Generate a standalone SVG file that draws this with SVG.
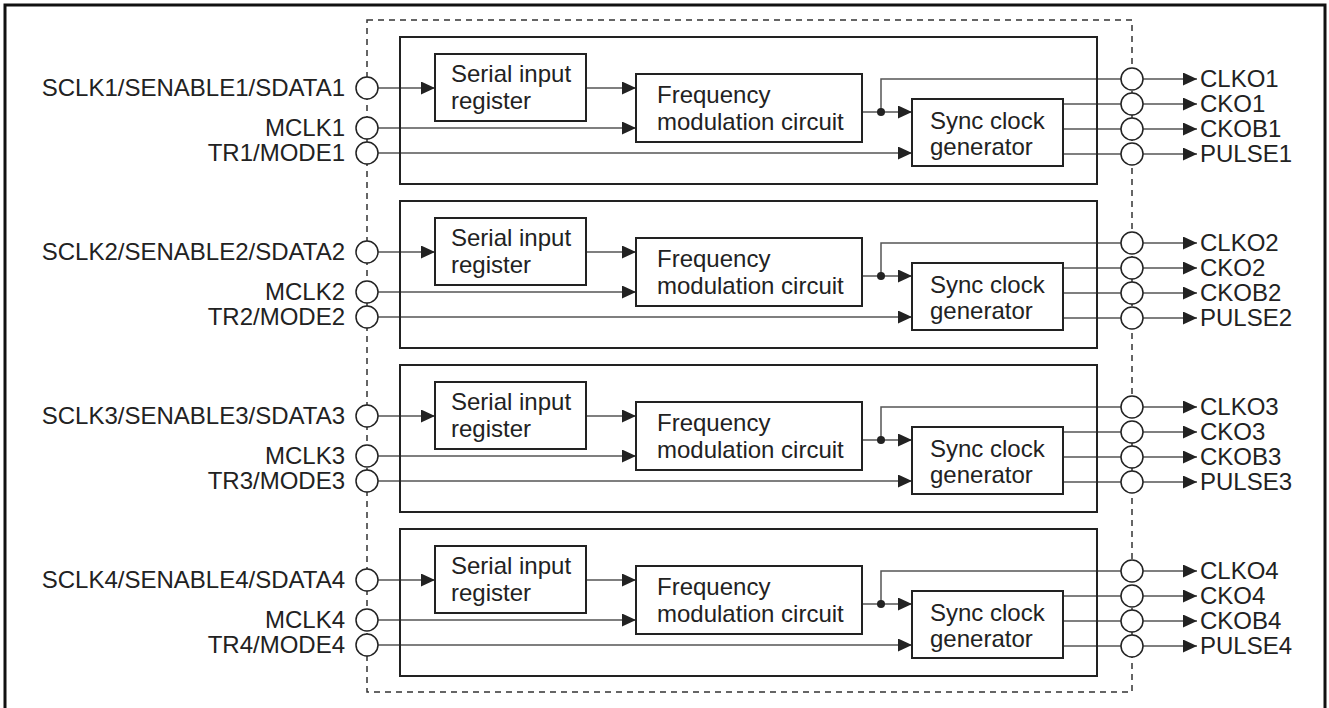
<svg xmlns="http://www.w3.org/2000/svg" xmlns:xlink="http://www.w3.org/1999/xlink" width="1329" height="708" viewBox="0 0 1329 708">
<style>
.box{fill:#fff;stroke:#222;stroke-width:2}
.blk{fill:none;stroke:#222;stroke-width:2}
.pin{fill:#fff;stroke:#222;stroke-width:1.5}
.ln{fill:none;stroke:#555;stroke-width:1.5}
.t{font-family:"Liberation Sans",Arial,sans-serif;font-size:24px;fill:#222}
.r{text-anchor:end}
</style>
<defs>
<marker id="ah" markerUnits="userSpaceOnUse" markerWidth="14" markerHeight="13" refX="14" refY="6.5" orient="auto">
<path d="M0,0 L14,6.5 L0,13 Z" fill="#222"/>
</marker>
</defs>
<rect x="5" y="5" width="1320" height="720" fill="#fff" stroke="#111" stroke-width="3"/>
<rect id="chip" x="367" y="20" width="765" height="672" fill="none" stroke="#333" stroke-width="1.5" stroke-dasharray="6,5"/>

<g id="connectors">
<g id="conn1">
<line class="ln" x1="378" y1="88" x2="435" y2="88" marker-end="url(#ah)"/>
<line class="ln" x1="586" y1="88" x2="636" y2="88" marker-end="url(#ah)"/>
<line class="ln" x1="378" y1="128" x2="636" y2="128" marker-end="url(#ah)"/>
<line class="ln" x1="378" y1="153" x2="912" y2="153" marker-end="url(#ah)"/>
<line class="ln" x1="862" y1="112" x2="912" y2="112" marker-end="url(#ah)"/>
<path class="ln" d="M881,112 V79 H1197" marker-end="url(#ah)"/>
<line class="ln" x1="1063" y1="104" x2="1197" y2="104" marker-end="url(#ah)"/>
<line class="ln" x1="1063" y1="129" x2="1197" y2="129" marker-end="url(#ah)"/>
<line class="ln" x1="1063" y1="154" x2="1197" y2="154" marker-end="url(#ah)"/>
<circle cx="881" cy="112" r="4" fill="#222"/>
</g>
<g id="conn2" transform="translate(0,164)">
<line class="ln" x1="378" y1="88" x2="435" y2="88" marker-end="url(#ah)"/>
<line class="ln" x1="586" y1="88" x2="636" y2="88" marker-end="url(#ah)"/>
<line class="ln" x1="378" y1="128" x2="636" y2="128" marker-end="url(#ah)"/>
<line class="ln" x1="378" y1="153" x2="912" y2="153" marker-end="url(#ah)"/>
<line class="ln" x1="862" y1="112" x2="912" y2="112" marker-end="url(#ah)"/>
<path class="ln" d="M881,112 V79 H1197" marker-end="url(#ah)"/>
<line class="ln" x1="1063" y1="104" x2="1197" y2="104" marker-end="url(#ah)"/>
<line class="ln" x1="1063" y1="129" x2="1197" y2="129" marker-end="url(#ah)"/>
<line class="ln" x1="1063" y1="154" x2="1197" y2="154" marker-end="url(#ah)"/>
<circle cx="881" cy="112" r="4" fill="#222"/>
</g>
<g id="conn3" transform="translate(0,328)">
<line class="ln" x1="378" y1="88" x2="435" y2="88" marker-end="url(#ah)"/>
<line class="ln" x1="586" y1="88" x2="636" y2="88" marker-end="url(#ah)"/>
<line class="ln" x1="378" y1="128" x2="636" y2="128" marker-end="url(#ah)"/>
<line class="ln" x1="378" y1="153" x2="912" y2="153" marker-end="url(#ah)"/>
<line class="ln" x1="862" y1="112" x2="912" y2="112" marker-end="url(#ah)"/>
<path class="ln" d="M881,112 V79 H1197" marker-end="url(#ah)"/>
<line class="ln" x1="1063" y1="104" x2="1197" y2="104" marker-end="url(#ah)"/>
<line class="ln" x1="1063" y1="129" x2="1197" y2="129" marker-end="url(#ah)"/>
<line class="ln" x1="1063" y1="154" x2="1197" y2="154" marker-end="url(#ah)"/>
<circle cx="881" cy="112" r="4" fill="#222"/>
</g>
<g id="conn4" transform="translate(0,492)">
<line class="ln" x1="378" y1="88" x2="435" y2="88" marker-end="url(#ah)"/>
<line class="ln" x1="586" y1="88" x2="636" y2="88" marker-end="url(#ah)"/>
<line class="ln" x1="378" y1="128" x2="636" y2="128" marker-end="url(#ah)"/>
<line class="ln" x1="378" y1="153" x2="912" y2="153" marker-end="url(#ah)"/>
<line class="ln" x1="862" y1="112" x2="912" y2="112" marker-end="url(#ah)"/>
<path class="ln" d="M881,112 V79 H1197" marker-end="url(#ah)"/>
<line class="ln" x1="1063" y1="104" x2="1197" y2="104" marker-end="url(#ah)"/>
<line class="ln" x1="1063" y1="129" x2="1197" y2="129" marker-end="url(#ah)"/>
<line class="ln" x1="1063" y1="154" x2="1197" y2="154" marker-end="url(#ah)"/>
<circle cx="881" cy="112" r="4" fill="#222"/>
</g>
</g>

<g id="channel1">
<rect id="block1" class="blk" x="400" y="37" width="697" height="147"/>
<g id="serial1"><rect class="box" x="435" y="54" width="151" height="67"/><text class="t" x="451" y="82">Serial input</text><text class="t" x="451" y="109">register</text></g>
<g id="freq1"><rect class="box" x="636" y="74" width="226" height="68"/><text class="t" x="657" y="103">Frequency</text><text class="t" x="657" y="130">modulation circuit</text></g>
<g id="sync1"><rect class="box" x="912" y="99" width="151" height="67"/><text class="t" x="930" y="129">Sync clock</text><text class="t" x="930" y="155">generator</text></g>
<g id="pin-sclk1"><circle class="pin" cx="367" cy="88" r="11"/><text class="t r" x="345" y="96">SCLK1/SENABLE1/SDATA1</text></g>
<g id="pin-mclk1"><circle class="pin" cx="367" cy="128" r="11"/><text class="t r" x="345" y="136">MCLK1</text></g>
<g id="pin-tr1"><circle class="pin" cx="367" cy="153" r="11"/><text class="t r" x="345" y="161">TR1/MODE1</text></g>
<g id="pin-clko1"><circle class="pin" cx="1132" cy="79" r="11"/><text class="t" x="1200" y="87">CLKO1</text></g>
<g id="pin-cko1"><circle class="pin" cx="1132" cy="104" r="11"/><text class="t" x="1200" y="112">CKO1</text></g>
<g id="pin-ckob1"><circle class="pin" cx="1132" cy="129" r="11"/><text class="t" x="1200" y="137">CKOB1</text></g>
<g id="pin-pulse1"><circle class="pin" cx="1132" cy="154" r="11"/><text class="t" x="1200" y="162">PULSE1</text></g>
</g>

<g id="channel2" transform="translate(0,164)">
<rect id="block2" class="blk" x="400" y="37" width="697" height="147"/>
<g id="serial2"><rect class="box" x="435" y="54" width="151" height="67"/><text class="t" x="451" y="82">Serial input</text><text class="t" x="451" y="109">register</text></g>
<g id="freq2"><rect class="box" x="636" y="74" width="226" height="68"/><text class="t" x="657" y="103">Frequency</text><text class="t" x="657" y="130">modulation circuit</text></g>
<g id="sync2"><rect class="box" x="912" y="99" width="151" height="67"/><text class="t" x="930" y="129">Sync clock</text><text class="t" x="930" y="155">generator</text></g>
<g id="pin-sclk2"><circle class="pin" cx="367" cy="88" r="11"/><text class="t r" x="345" y="96">SCLK2/SENABLE2/SDATA2</text></g>
<g id="pin-mclk2"><circle class="pin" cx="367" cy="128" r="11"/><text class="t r" x="345" y="136">MCLK2</text></g>
<g id="pin-tr2"><circle class="pin" cx="367" cy="153" r="11"/><text class="t r" x="345" y="161">TR2/MODE2</text></g>
<g id="pin-clko2"><circle class="pin" cx="1132" cy="79" r="11"/><text class="t" x="1200" y="87">CLKO2</text></g>
<g id="pin-cko2"><circle class="pin" cx="1132" cy="104" r="11"/><text class="t" x="1200" y="112">CKO2</text></g>
<g id="pin-ckob2"><circle class="pin" cx="1132" cy="129" r="11"/><text class="t" x="1200" y="137">CKOB2</text></g>
<g id="pin-pulse2"><circle class="pin" cx="1132" cy="154" r="11"/><text class="t" x="1200" y="162">PULSE2</text></g>
</g>

<g id="channel3" transform="translate(0,328)">
<rect id="block3" class="blk" x="400" y="37" width="697" height="147"/>
<g id="serial3"><rect class="box" x="435" y="54" width="151" height="67"/><text class="t" x="451" y="82">Serial input</text><text class="t" x="451" y="109">register</text></g>
<g id="freq3"><rect class="box" x="636" y="74" width="226" height="68"/><text class="t" x="657" y="103">Frequency</text><text class="t" x="657" y="130">modulation circuit</text></g>
<g id="sync3"><rect class="box" x="912" y="99" width="151" height="67"/><text class="t" x="930" y="129">Sync clock</text><text class="t" x="930" y="155">generator</text></g>
<g id="pin-sclk3"><circle class="pin" cx="367" cy="88" r="11"/><text class="t r" x="345" y="96">SCLK3/SENABLE3/SDATA3</text></g>
<g id="pin-mclk3"><circle class="pin" cx="367" cy="128" r="11"/><text class="t r" x="345" y="136">MCLK3</text></g>
<g id="pin-tr3"><circle class="pin" cx="367" cy="153" r="11"/><text class="t r" x="345" y="161">TR3/MODE3</text></g>
<g id="pin-clko3"><circle class="pin" cx="1132" cy="79" r="11"/><text class="t" x="1200" y="87">CLKO3</text></g>
<g id="pin-cko3"><circle class="pin" cx="1132" cy="104" r="11"/><text class="t" x="1200" y="112">CKO3</text></g>
<g id="pin-ckob3"><circle class="pin" cx="1132" cy="129" r="11"/><text class="t" x="1200" y="137">CKOB3</text></g>
<g id="pin-pulse3"><circle class="pin" cx="1132" cy="154" r="11"/><text class="t" x="1200" y="162">PULSE3</text></g>
</g>

<g id="channel4" transform="translate(0,492)">
<rect id="block4" class="blk" x="400" y="37" width="697" height="147"/>
<g id="serial4"><rect class="box" x="435" y="54" width="151" height="67"/><text class="t" x="451" y="82">Serial input</text><text class="t" x="451" y="109">register</text></g>
<g id="freq4"><rect class="box" x="636" y="74" width="226" height="68"/><text class="t" x="657" y="103">Frequency</text><text class="t" x="657" y="130">modulation circuit</text></g>
<g id="sync4"><rect class="box" x="912" y="99" width="151" height="67"/><text class="t" x="930" y="129">Sync clock</text><text class="t" x="930" y="155">generator</text></g>
<g id="pin-sclk4"><circle class="pin" cx="367" cy="88" r="11"/><text class="t r" x="345" y="96">SCLK4/SENABLE4/SDATA4</text></g>
<g id="pin-mclk4"><circle class="pin" cx="367" cy="128" r="11"/><text class="t r" x="345" y="136">MCLK4</text></g>
<g id="pin-tr4"><circle class="pin" cx="367" cy="153" r="11"/><text class="t r" x="345" y="161">TR4/MODE4</text></g>
<g id="pin-clko4"><circle class="pin" cx="1132" cy="79" r="11"/><text class="t" x="1200" y="87">CLKO4</text></g>
<g id="pin-cko4"><circle class="pin" cx="1132" cy="104" r="11"/><text class="t" x="1200" y="112">CKO4</text></g>
<g id="pin-ckob4"><circle class="pin" cx="1132" cy="129" r="11"/><text class="t" x="1200" y="137">CKOB4</text></g>
<g id="pin-pulse4"><circle class="pin" cx="1132" cy="154" r="11"/><text class="t" x="1200" y="162">PULSE4</text></g>
</g>
</svg>
